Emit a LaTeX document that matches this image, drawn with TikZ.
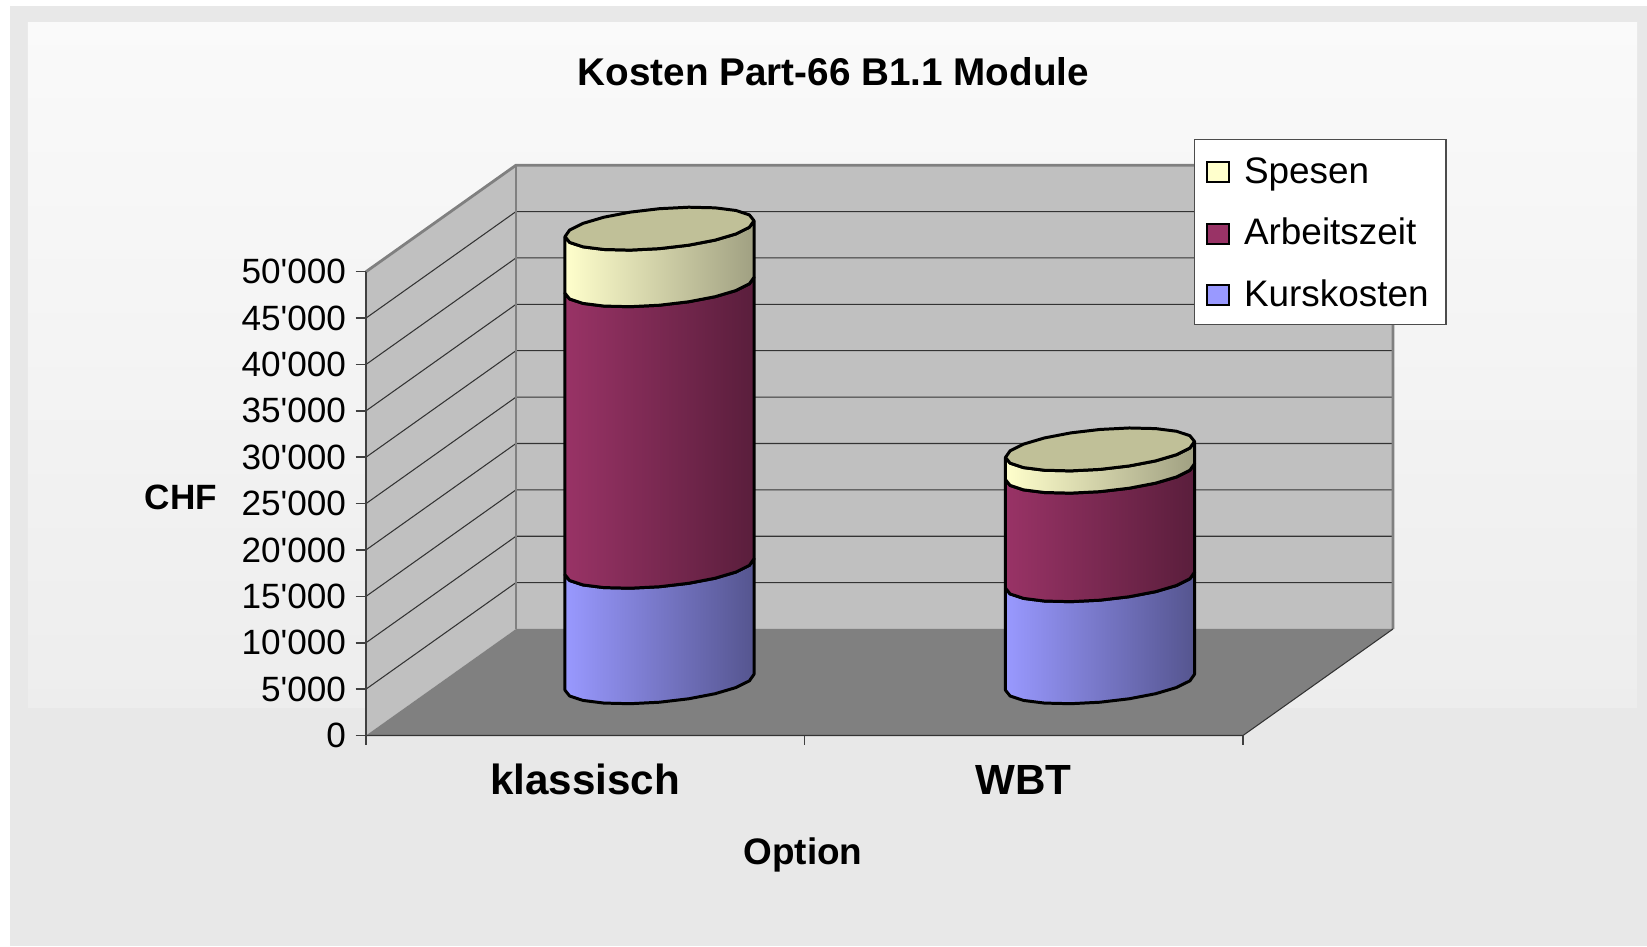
\documentclass[tikz,border=0pt]{standalone}
\usepackage{fontspec}
\setmainfont{Liberation Sans}
\usetikzlibrary{positioning}

\definecolor{framegray}{HTML}{E8E8E8}
\definecolor{wallgray}{HTML}{C0C0C0}
\definecolor{floorgray}{HTML}{808080}
\definecolor{spesen}{HTML}{FFFFCC}
\definecolor{spesendark}{HTML}{A0A082}
\definecolor{arbeit}{HTML}{993366}
\definecolor{arbeitdark}{HTML}{5A1E3C}
\definecolor{kurs}{HTML}{9999FF}
\definecolor{kursdark}{HTML}{55558F}
\definecolor{topface}{HTML}{C0C098}

\tikzset{
  cylline/.style={draw=black, line width=0.85pt, line join=round},
  edgegray/.style={draw=floorgray, line width=0.8pt},
  gridline/.style={draw=black!80, line width=0.3pt},
  axisline/.style={draw=black!75, line width=0.45pt},
  ylab/.style={anchor=east, inner sep=0pt, font=\fontsize{10}{12}\selectfont},
  catlab/.style={anchor=base, inner sep=0pt, font=\fontsize{12}{14}\selectfont\bfseries},
  legbox/.style={draw=black, line width=0.6pt, minimum width=0.22cm, minimum height=0.2cm, inner sep=0pt},
  legtext/.style={inner sep=0pt, font=\fontsize{10.5}{12}\selectfont},
}

% one stacked piece of a cylinder: centre x, from value, to value (in thousands), colours
\newcommand{\cylseg}[5]{%
  \draw[cylline, left color=#4, right color=#5]
    plot[domain=201.73:381.73, samples=11] ({#1+0.878*cos(\x)+0.35*sin(\x)}, {2.6375+#2*0.09276+0.215*sin(\x)})
    -- plot[domain=381.73:201.73, samples=11] ({#1+0.878*cos(\x)+0.35*sin(\x)}, {2.6375+#3*0.09276+0.215*sin(\x)})
    -- cycle;}
% lid of a cylinder
\newcommand{\cyltop}[2]{%
  \draw[cylline, fill=topface]
    plot[domain=21.73:381.73, samples=21] ({#1+0.878*cos(\x)+0.35*sin(\x)}, {2.6375+#2*0.09276+0.215*sin(\x)}) -- cycle;}

\begin{document}
\begin{tikzpicture}
\useasboundingbox (0,0) rectangle (16.47,9.46);

% background and frame
\fill[white] (0,0) rectangle (16.47,9.46);
\fill[framegray] (0.10,0) rectangle (16.47,9.40);
\shade[top color=black!2, bottom color=black!7] (0.28,2.39) rectangle (16.37,9.23);

% walls and floor
\fill[wallgray] (5.16,3.17) rectangle (13.93,7.808);
\fill[wallgray] (3.66,2.105) -- (3.66,6.743) -- (5.16,7.808) -- (5.16,3.17) -- cycle;
\fill[floorgray] (3.66,2.105) -- (12.43,2.105) -- (13.93,3.17) -- (5.16,3.17) -- cycle;

% grid lines
\foreach \k in {1,...,9} {
  \draw[gridline] (3.66,{2.105+0.4638*\k}) -- (5.16,{3.17+0.4638*\k}) -- (13.93,{3.17+0.4638*\k});
}

% wall edges
\draw[edgegray] (3.66,6.743) -- (5.16,7.808) -- (13.93,7.808) -- (13.93,3.17);
\draw[edgegray] (5.16,7.808) -- (5.16,3.17);
\draw[gridline] (3.66,2.105) -- (12.43,2.105) -- (13.93,3.17);

% value axis
\draw[axisline] (3.66,2.105) -- (3.66,6.743);
\foreach \k in {0,...,10} {
  \draw[axisline] (3.555,{2.105+0.4638*\k}) -- (3.66,{2.105+0.4638*\k});
}
\node[ylab] (yl0) at (3.467,2.105) {0};
\foreach \k in {1,...,10} {
  \pgfmathtruncatemacro{\v}{5*\k}
  \node[ylab] (yl\k) at (3.467,{2.105+0.4638*\k}) {\v\textquotesingle000};
}

% category ticks
\foreach \x in {3.66,8.045,12.43} {
  \draw[axisline] (\x,2.105) -- (\x,2.005);
}

% cylinders
\cylseg{6.595}{0}{12.45}{kurs}{kursdark}
\cylseg{6.595}{12.45}{42.8}{arbeit}{arbeitdark}
\cylseg{6.595}{42.8}{48.9}{spesen}{spesendark}
\cyltop{6.595}{48.9}

\cylseg{11.0}{0}{11.0}{kurs}{kursdark}
\cylseg{11.0}{11.0}{22.7}{arbeit}{arbeitdark}
\cylseg{11.0}{22.7}{25.1}{spesen}{spesendark}
\cyltop{11.0}{25.1}

% texts
\node[anchor=base, inner sep=0pt, font=\fontsize{11}{13}\selectfont\bfseries] (title) at (8.335,8.60) {Kosten Part-66 B1.1 Module};
\node[inner sep=0pt, font=\fontsize{10}{12}\selectfont\bfseries] (chf) at (1.81,4.49) {CHF};
\node[catlab] (klassisch) at (5.85,1.51) {klassisch};
\node[catlab] (wbt) at (10.235,1.51) {WBT};
\node[anchor=base, inner sep=0pt, font=\fontsize{10.5}{12}\selectfont\bfseries] (option) at (8.03,0.817) {Option};

% legend
\node[draw=black!70, fill=white, line width=0.4pt, minimum width=2.517cm, minimum height=1.85cm, inner sep=0pt] (legend) at (13.2015,7.139) {};
\node[legbox, fill=spesen] (mkSpesen) at (12.183,7.737) {};
\node[legbox, fill=arbeit] (mkArbeit) at (12.183,7.124) {};
\node[legbox, fill=kurs] (mkKurs) at (12.183,6.51) {};
\node[legtext, right=0.13cm of mkSpesen.south east, anchor=base west] (txSpesen) {Spesen};
\node[legtext, right=0.13cm of mkArbeit.south east, anchor=base west] (txArbeit) {Arbeitszeit};
\node[legtext, right=0.13cm of mkKurs.south east, anchor=base west] (txKurs) {Kurskosten};

\end{tikzpicture}
\end{document}
